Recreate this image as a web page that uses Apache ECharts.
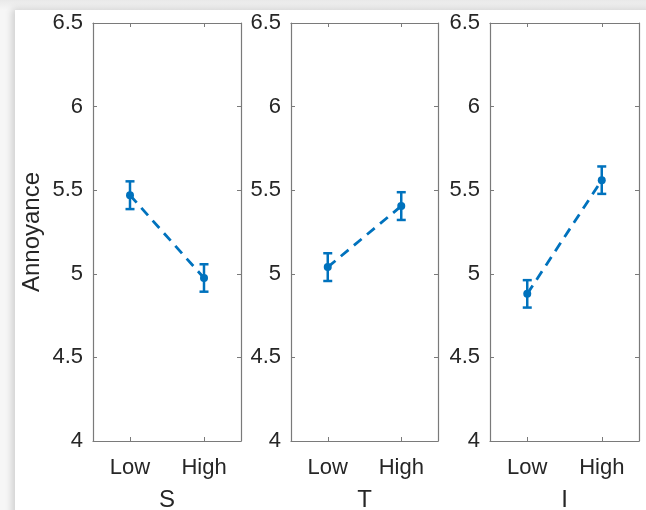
<!DOCTYPE html>
<html>
<head>
<meta charset="utf-8">
<script src="https://cdn.jsdelivr.net/npm/echarts@6/dist/echarts.min.js"></script>
<style>
  html, body { margin: 0; padding: 0; background: #eeeeee; }
  #wrap { position: relative; width: 646px; height: 510px; overflow: hidden;
          background: linear-gradient(to bottom, #e9e9e9 0px, #f6f6f6 10px); }
  #card { position: absolute; left: 15px; top: 10px; width: 640px; height: 510px;
          background: #ffffff; box-shadow: -3px -1px 7px rgba(0,0,0,0.16); }
  #chart { position: absolute; left: 0; top: 0; width: 646px; height: 510px; }
</style>
</head>
<body>
<div id="wrap">
  <div id="card"></div>
  <div id="chart"></div>
</div>
<script>
// Factor levels and panel names
const levels = ['Low', 'High'];
const factors = ['S', 'T', 'I'];

// Mean annoyance per level, one array per factor
const meanS = [5.47, 4.975];
const meanT = [5.04, 5.405];
const meanI = [4.88, 5.56];

// Error bar half-widths
const errS = [0.083, 0.082];
const errT = [0.083, 0.083];
const errI = [0.082, 0.082];

// Y axis ticks
const yMin = 4, yMax = 6.5, yStep = 0.5;

const means = [meanS, meanT, meanI];
const errs = [errS, errT, errI];

const BLUE = '#0072BD';
const AXIS = '#7a7a7a';
const TEXT = '#262626';
const FONT = '"Liberation Sans", Arial, Helvetica, sans-serif';

const panels = [
  { left: 93, width: 148 },
  { left: 291, width: 147 },
  { left: 490, width: 149 }
];

const grid = [], xAxis = [], yAxis = [], series = [];

panels.forEach((p, i) => {
  grid.push({ left: p.left, top: 23, width: p.width, height: 418,
              show: false, containLabel: false, outerBoundsMode: 'none' });

  const tickStyle = { show: true, inside: true, length: 4, alignWithLabel: true,
                      lineStyle: { color: AXIS, width: 1 } };

  // bottom axis with labels and name
  xAxis.push({
    type: 'category', data: levels, gridIndex: i, position: 'bottom',
    boundaryGap: true,
    axisLine: { show: true, lineStyle: { color: AXIS, width: 1.2 } },
    axisTick: tickStyle,
    axisLabel: { color: TEXT, fontSize: 22, fontFamily: FONT, margin: 16 },
    name: factors[i], nameLocation: 'middle', nameGap: 47,
    nameTextStyle: { color: TEXT, fontSize: 24, fontFamily: FONT },
    splitLine: { show: false }
  });
  // top axis mirrors ticks to close the box
  xAxis.push({
    type: 'category', data: levels, gridIndex: i, position: 'top',
    boundaryGap: true,
    axisLine: { show: true, lineStyle: { color: AXIS, width: 1.2 } },
    axisTick: tickStyle,
    axisLabel: { show: false },
    splitLine: { show: false }
  });

  const yTick = { show: true, inside: true, length: 4,
                  lineStyle: { color: AXIS, width: 1 } };
  yAxis.push({
    type: 'value', gridIndex: i, position: 'left',
    min: yMin, max: yMax, interval: yStep,
    axisLine: { show: true, lineStyle: { color: AXIS, width: 1.2 } },
    axisTick: yTick,
    axisLabel: { color: TEXT, fontSize: 22, fontFamily: FONT, margin: 10,
                 padding: [8, 0, 0, 0] },
    splitLine: { show: false },
    name: i === 0 ? 'Annoyance' : '', nameLocation: 'middle', nameGap: 49,
    nameTextStyle: { color: TEXT, fontSize: 24, fontFamily: FONT }
  });
  yAxis.push({
    type: 'value', gridIndex: i, position: 'right',
    min: yMin, max: yMax, interval: yStep,
    axisLine: { show: true, lineStyle: { color: AXIS, width: 1.2 } },
    axisTick: yTick,
    axisLabel: { show: false },
    splitLine: { show: false }
  });

  const m = means[i], e = errs[i];

  // dashed mean line with dot markers
  series.push({
    type: 'line', xAxisIndex: 2 * i, yAxisIndex: 2 * i,
    data: m, symbol: 'circle', symbolSize: 8,
    lineStyle: { color: BLUE, width: 2.8, type: [10, 7] },
    itemStyle: { color: BLUE },
    animation: false, z: 3
  });

  // vertical error bars with caps
  series.push({
    type: 'custom', xAxisIndex: 2 * i, yAxisIndex: 2 * i,
    data: m.map((v, k) => [k, v - e[k], v + e[k]]),
    renderItem: function (params, api) {
      const lo = api.coord([api.value(0), api.value(1)]);
      const hi = api.coord([api.value(0), api.value(2)]);
      const hw = 4.5;
      const style = { stroke: BLUE, lineWidth: 2.5, fill: null };
      return {
        type: 'group',
        children: [
          { type: 'line', shape: { x1: lo[0], y1: lo[1], x2: hi[0], y2: hi[1] }, style },
          { type: 'line', shape: { x1: lo[0] - hw, y1: lo[1], x2: lo[0] + hw, y2: lo[1] }, style },
          { type: 'line', shape: { x1: hi[0] - hw, y1: hi[1], x2: hi[0] + hw, y2: hi[1] }, style }
        ]
      };
    },
    animation: false, z: 4
  });
});

const chart = echarts.init(document.getElementById('chart'), null, { renderer: 'canvas' });
chart.setOption({
  backgroundColor: 'transparent',
  animation: false,
  grid, xAxis, yAxis, series
});
</script>
</body>
</html>
